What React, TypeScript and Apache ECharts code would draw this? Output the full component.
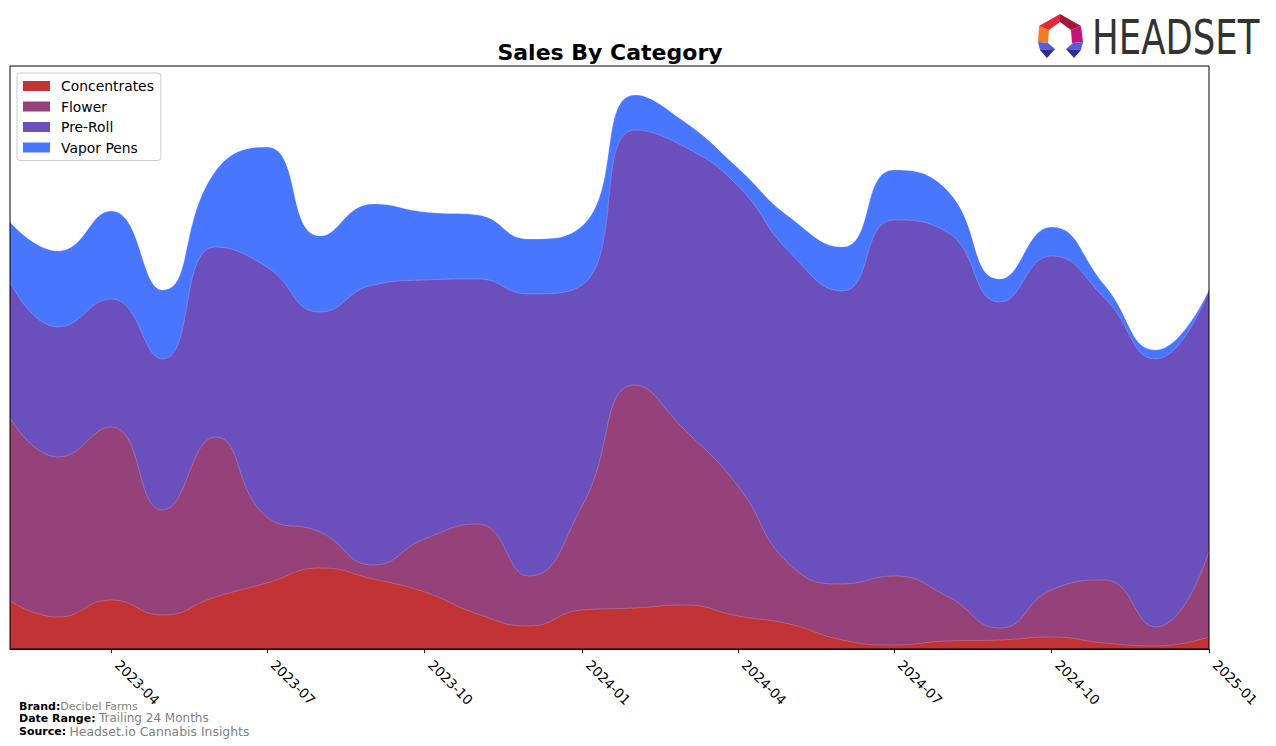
import React, { useEffect, useRef } from "react";
import * as echarts from "echarts";

const months = [
  "2023-02", "2023-03", "2023-04", "2023-05", "2023-06", "2023-07", "2023-08", "2023-09",
  "2023-10", "2023-11", "2023-12", "2024-01", "2024-02", "2024-03", "2024-04", "2024-05",
  "2024-06", "2024-07", "2024-08", "2024-09", "2024-10", "2024-11", "2024-12", "2025-01",
];
const categories = ["Concentrates", "Flower", "Pre-Roll", "Vapor Pens"];
const concentrates = [48, 32, 49, 34, 52, 66, 81, 70, 57, 35, 23, 39, 41, 44, 33, 25, 9, 4, 8, 9, 12, 6, 3, 12];
const flower = [183, 160, 173, 105, 160, 66, 36, 14, 53, 90, 50, 104, 223, 175, 130, 60, 56, 69, 45, 12, 47, 63, 19, 86];
const preRoll = [136, 130, 128, 151, 190, 250, 220, 280, 259, 245, 282, 221, 255, 283, 300, 312, 293, 356, 364, 326, 334, 282, 268, 261];
const vaporPens = [60, 76, 88, 69, 76, 120, 76, 81, 68, 64, 55, 59, 35, 25, 18, 35, 44, 50, 42, 23, 29, 13, 9, 0];
const tickLabels = ["2023-04", "2023-07", "2023-10", "2024-01", "2024-04", "2024-07", "2024-10", "2025-01"];
const colors = ["#C13334", "#95417A", "#6A4FBD", "#4876FF"];

function toTime(ym: string): number {
  const [y, m] = ym.split("-").map(Number);
  return Date.UTC(y, m - 1, 1);
}

function fmt(v: number): string {
  const d = new Date(v);
  const m = d.getUTCMonth() + 1;
  return d.getUTCFullYear() + "-" + (m < 10 ? "0" + m : "" + m);
}

export default function App() {
  const ref = useRef<HTMLDivElement>(null);
  useEffect(() => {
    if (!ref.current) return;
    const chart = echarts.init(ref.current, null, { renderer: "svg" });
    const seriesData = [concentrates, flower, preRoll, vaporPens];
    // cumulative totals (stacking done here; each area fills down to zero)
    const cumulative: number[][] = [];
    seriesData.forEach((arr, i) => {
      cumulative.push(arr.map((v, j) => v + (i > 0 ? cumulative[i - 1][j] : 0)));
    });
    const font = "DejaVu Sans";
    const ticks = tickLabels.map(toTime);
    const option: any = {
      animation: false,
      backgroundColor: "#ffffff",
      grid: {
        left: 10,
        right: 67,
        top: 66,
        bottom: 97,
        show: true,
        borderColor: "#000",
        borderWidth: 1,
        backgroundColor: "transparent",
        containLabel: false,
        outerBoundsMode: "none",
        z: 10,
      },
      legend: {
        data: categories,
        orient: "vertical",
        left: 17,
        top: 73,
        padding: [6, 7, 6, 6],
        itemWidth: 27,
        itemHeight: 10,
        itemGap: 6.5,
        icon: "rect",
        borderColor: "#cccccc",
        borderWidth: 1,
        borderRadius: 3,
        backgroundColor: "rgba(255,255,255,0.8)",
        textStyle: { fontFamily: font, fontSize: 13.9, color: "#000", padding: [0, 0, 0, 6] },
        z: 20,
      },
      xAxis: {
        type: "value",
        min: toTime(months[0]),
        max: toTime(months[months.length - 1]),
        axisLine: { show: true, onZero: false, lineStyle: { color: "#000", width: 1 } },
        axisTick: {
          show: true,
          length: 4,
          lineStyle: { color: "#000" },
          customValues: ticks,
        },
        axisLabel: {
          show: true,
          rotate: -45,
          margin: 7,
          padding: [0, 0, 0, 9],
          fontFamily: font,
          fontSize: 13.5,
          color: "#000",
          customValues: ticks,
          formatter: (v: number) => fmt(v),
          hideOverlap: false,
          showMinLabel: true,
          showMaxLabel: true,
        },
        splitLine: { show: false },
      },
      yAxis: {
        type: "value",
        min: 0,
        max: 583,
        show: false,
        splitLine: { show: false },
      },
      series: categories.map((name, i) => ({
        name,
        type: "line",
        smooth: 0.5,
        symbol: "none",
        data: months.map((m, j) => [toTime(m), cumulative[i][j]]),
        lineStyle: { width: 0.8, color: "rgba(255,255,255,0.25)" },
        areaStyle: { color: colors[i], opacity: 1, origin: "start" },
        itemStyle: { color: colors[i] },
        emphasis: { disabled: true },
        z: 2 + (categories.length - i),
      })),
      graphic: [
        {
          type: "text",
          x: 610,
          y: 52,
          style: {
            text: "Sales By Category",
            textAlign: "center",
            textVerticalAlign: "middle",
            font: "bold 22px DejaVu Sans",
            fill: "#000",
          },
        },
        {
          type: "text",
          x: 19,
          y: 706,
          style: {
            text: "{b|Brand:}{v|Decibel Farms}",
            textVerticalAlign: "middle",
            rich: {
              b: { fontFamily: font, fontWeight: "bold", fontSize: 11, lineHeight: 11, fill: "#000" },
              v: { fontFamily: font, fontSize: 11, lineHeight: 11, fill: "#808080" },
            },
          },
        },
        {
          type: "text",
          x: 19,
          y: 718,
          style: {
            text: "{b|Date Range:} {v|Trailing 24 Months}",
            textVerticalAlign: "middle",
            rich: {
              b: { fontFamily: font, fontWeight: "bold", fontSize: 11, lineHeight: 11, fill: "#000" },
              v: { fontFamily: font, fontSize: 12, lineHeight: 11, fill: "#808080" },
            },
          },
        },
        {
          type: "text",
          x: 19,
          y: 731,
          style: {
            text: "{b|Source:} {v|Headset.io Cannabis Insights}",
            textVerticalAlign: "middle",
            rich: {
              b: { fontFamily: font, fontWeight: "bold", fontSize: 11, lineHeight: 11, fill: "#000" },
              v: { fontFamily: font, fontSize: 12.4, lineHeight: 11, fill: "#808080" },
            },
          },
        },
        {
          type: "text",
          x: 1092,
          y: 38,
          scaleX: 0.74,
          style: {
            text: "HEADSET",
            textVerticalAlign: "middle",
            font: "48px DejaVu Sans",
            fill: "#333333",
          },
        },
        { type: "polygon", shape: { points: [[1039, 26], [1049, 30], [1048, 43], [1038, 42]] }, style: { fill: "#F47B20" } },
        { type: "polygon", shape: { points: [[1039, 26], [1060, 14], [1060, 22], [1049, 30]] }, style: { fill: "#E0283C" } },
        { type: "polygon", shape: { points: [[1060, 14], [1081, 26], [1071, 30], [1060, 22]] }, style: { fill: "#A5163C" } },
        { type: "polygon", shape: { points: [[1081, 26], [1083, 42], [1072, 43], [1071, 30]] }, style: { fill: "#C4157A" } },
        { type: "polygon", shape: { points: [[1038, 42], [1048, 43], [1055, 49], [1040, 50]] }, style: { fill: "#5B5BD6" } },
        { type: "polygon", shape: { points: [[1040, 50], [1055, 49], [1047, 58]] }, style: { fill: "#2D2F8E" } },
        { type: "polygon", shape: { points: [[1083, 42], [1073, 43], [1066, 49], [1081, 50]] }, style: { fill: "#5B5BD6" } },
        { type: "polygon", shape: { points: [[1081, 50], [1066, 49], [1074, 58]] }, style: { fill: "#2D2F8E" } },
      ],
    };
    chart.setOption(option);
    return () => chart.dispose();
  }, []);
  return (
    <div
      ref={ref}
      style={{ position: "fixed", left: 0, top: 0, width: 1276, height: 746, background: "#fff" }}
    />
  );
}
